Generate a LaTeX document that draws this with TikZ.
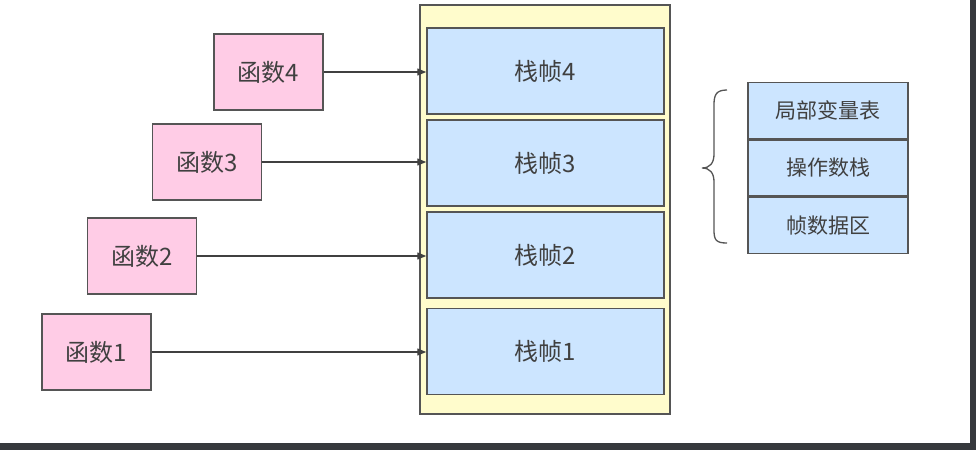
\documentclass[tikz,border=0pt]{standalone}
\usepackage{fontspec}
\newfontfamily\cjk{Noto Sans CJK SC}
\usetikzlibrary{arrows.meta}
\definecolor{pinkf}{HTML}{FFCCE6}
\definecolor{bluef}{HTML}{CCE5FF}
\definecolor{yellowf}{HTML}{FFFCCC}
\definecolor{edgec}{HTML}{555555}
\definecolor{txt}{HTML}{404040}
\definecolor{darkc}{HTML}{36393D}
\tikzset{
  box/.style={draw=edgec, line width=1.5pt, inner sep=0pt, text=txt},
  func/.style={box, fill=pinkf, minimum width=109pt, minimum height=76pt, font=\cjk\fontsize{24}{24}\selectfont},
  stackframe/.style={box, fill=bluef, minimum width=237pt, minimum height=86pt, font=\cjk\fontsize{24}{24}\selectfont},
  part/.style={box, fill=bluef, minimum width=160pt, minimum height=56pt, font=\cjk\fontsize{21}{21}\selectfont},
  call/.style={draw=txt, line width=1.3pt, -{Triangle[length=9pt,width=7pt]}},
}
\begin{document}
\begin{tikzpicture}[x=1pt,y=-1pt]
\useasboundingbox (0,0) rectangle (976,450);
\fill[white] (0,0) rectangle (976,450);
\fill[darkc] (0,443) rectangle (976,450);
\fill[darkc] (970,0) rectangle (976,450);
% outer stack
\node[box, fill=yellowf, minimum width=250pt, minimum height=409pt] (stack) at (545,209.5) {};
\node[stackframe] (s4) at (545.5,71) {栈帧4};
\node[stackframe] (s3) at (545.5,163) {栈帧3};
\node[stackframe] (s2) at (545.5,255) {栈帧2};
\node[stackframe] (s1) at (545.5,351.5) {栈帧1};
% functions
\node[func] (f4) at (268.5,72) {函数4};
\node[func] (f3) at (207,162) {函数3};
\node[func] (f2) at (142,256) {函数2};
\node[func] (f1) at (96.5,352) {函数1};
\draw[call] (f4.east) -- (f4.east -| s4.west);
\draw[call] (f3.east) -- (f3.east -| s3.west);
\draw[call] (f2.east) -- (f2.east -| s2.west);
\draw[call] (f1.east) -- (f1.east -| s1.west);
% frame parts
\node[part] (p1) at (828,110.5) {局部变量表};
\node[part, anchor=north] (p2) at (p1.south) {操作数栈};
\node[part, anchor=north] (p3) at (p2.south) {帧数据区};
% brace
\draw[edgec, line width=1.3pt]
  (727,90) .. controls (716,90) and (714,95) .. (714,105) -- (714,154)
  .. controls (714,163) and (710,168) .. (702,168)
  .. controls (710,168) and (714,173) .. (714,182) -- (714,230)
  .. controls (714,240) and (716,243) .. (727,243);
\end{tikzpicture}
\end{document}
